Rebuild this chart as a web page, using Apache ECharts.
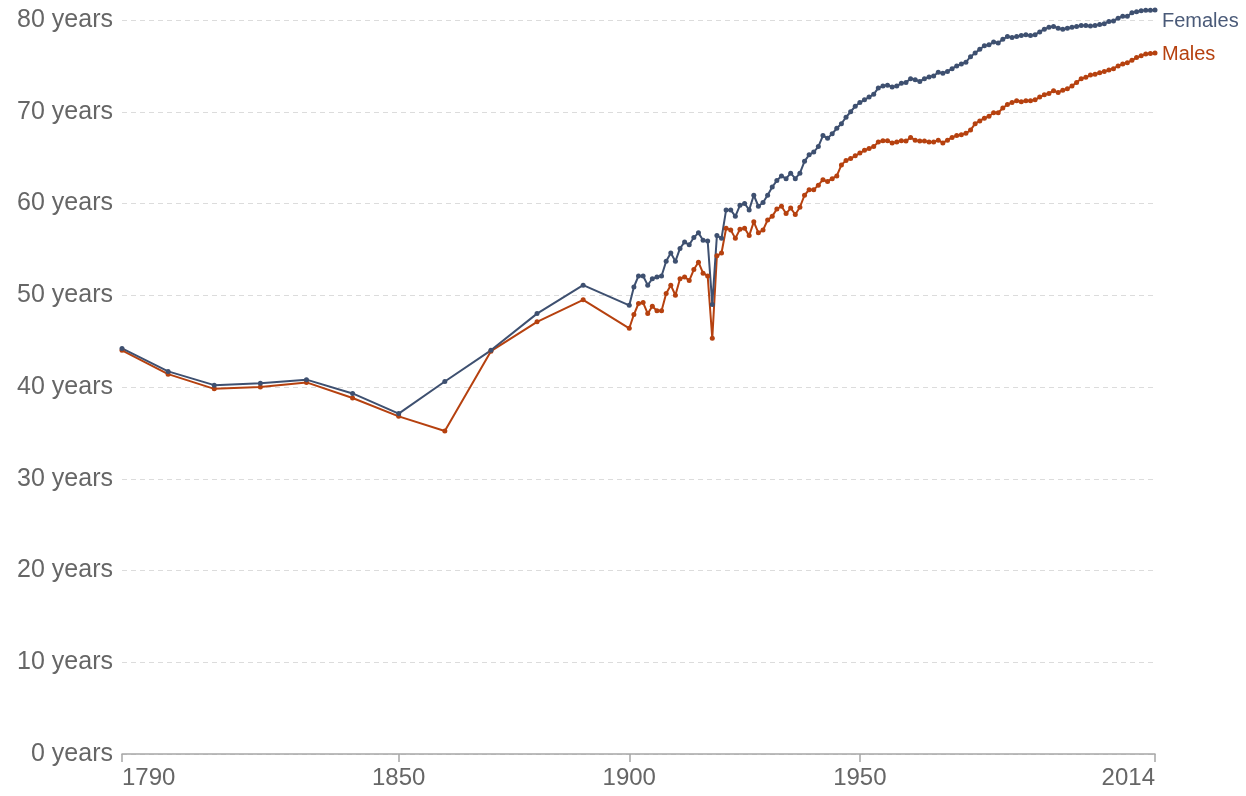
<!DOCTYPE html>
<html>
<head>
<meta charset="utf-8">
<title>Life expectancy, females and males</title>
<script src="https://cdn.jsdelivr.net/npm/echarts@6/dist/echarts.min.js"></script>
<style>
    html, body { margin: 0; padding: 0; background: #fff; }
    #main { width: 1246px; height: 796px; }
</style>
</head>
<body>
<div id="main"></div>
<script>
    // decade values until 1900, yearly afterwards
    var decadeYears = [1790, 1800, 1810, 1820, 1830, 1840, 1850, 1860, 1870, 1880, 1890, 1900];
    var firstYearlyYear = 1901;

    var females = [
        44.2, 41.7, 40.2, 40.4, 40.8, 39.3, 37.1, 40.6, 44.0, 48.0, 51.1, 48.9,
        50.9, 52.1, 52.1, 51.1, 51.8, 52.0, 52.1, 53.7, 54.6, 53.7,
        55.1, 55.8, 55.5, 56.3, 56.8, 56.0, 55.9, 49.0, 56.5, 56.2,
        59.3, 59.3, 58.6, 59.8, 60.0, 59.3, 60.9, 59.7, 60.1, 60.9,
        61.8, 62.5, 63.0, 62.7, 63.3, 62.7, 63.3, 64.6, 65.3, 65.6,
        66.2, 67.4, 67.1, 67.6, 68.2, 68.7, 69.4, 70.0, 70.6, 71.0,
        71.3, 71.6, 71.9, 72.6, 72.8, 72.9, 72.7, 72.8, 73.1, 73.2,
        73.6, 73.5, 73.3, 73.6, 73.8, 73.9, 74.3, 74.2, 74.4, 74.7,
        75.0, 75.2, 75.4, 76.0, 76.4, 76.8, 77.2, 77.3, 77.6, 77.5,
        77.9, 78.2, 78.1, 78.2, 78.3, 78.4, 78.3, 78.4, 78.7, 79.0,
        79.2, 79.3, 79.1, 79.0, 79.1, 79.2, 79.3, 79.4, 79.4, 79.35,
        79.4, 79.5, 79.6, 79.85, 79.9, 80.2, 80.4, 80.4, 80.8, 80.9,
        81.0, 81.05, 81.05, 81.1
    ];

    var males = [
        44.0, 41.4, 39.8, 40.0, 40.5, 38.8, 36.8, 35.2, 43.9, 47.1, 49.5, 46.4,
        47.9, 49.1, 49.2, 48.0, 48.8, 48.3, 48.3, 50.2, 51.1, 50.0,
        51.8, 52.0, 51.6, 52.8, 53.6, 52.4, 52.1, 45.3, 54.3, 54.6,
        57.3, 57.1, 56.2, 57.2, 57.3, 56.5, 58.0, 56.8, 57.1, 58.2,
        58.6, 59.4, 59.7, 58.9, 59.5, 58.8, 59.6, 60.9, 61.5, 61.5,
        62.0, 62.6, 62.4, 62.7, 63.0, 64.2, 64.7, 64.9, 65.2, 65.5,
        65.8, 66.0, 66.2, 66.7, 66.85, 66.85, 66.6, 66.7, 66.85, 66.8,
        67.2, 66.9, 66.8, 66.8, 66.7, 66.7, 66.9, 66.6, 66.9, 67.2,
        67.4, 67.5, 67.65, 68.0, 68.7, 69.0, 69.3, 69.5, 69.9, 69.9,
        70.4, 70.8, 71.0, 71.2, 71.1, 71.2, 71.2, 71.3, 71.6, 71.85,
        72.0, 72.3, 72.1, 72.35, 72.5, 72.8, 73.2, 73.6, 73.75, 74.0,
        74.1, 74.25, 74.4, 74.55, 74.7, 75.0, 75.2, 75.35, 75.6, 75.9,
        76.1, 76.3, 76.35, 76.4
    ];

    var xTicks = [1790, 1850, 1900, 1950, 2014];
    var yTicks = [0, 10, 20, 30, 40, 50, 60, 70, 80];

    var years = decadeYears.slice();
    for (var y = firstYearlyYear; years.length < females.length; y++) {
        years.push(y);
    }

    function pairs(values) {
        var out = [];
        for (var i = 0; i < values.length; i++) {
            out.push([years[i], values[i]]);
        }
        return out;
    }

    var femaleColor = '#3e5070';
    var maleColor = '#b6410f';
    var font = '"Liberation Sans", Arial, Helvetica, sans-serif';

    var myChart = echarts.init(document.getElementById('main'), null, {renderer: 'canvas'});
    var option = {
        animation: false,
        backgroundColor: '#fff',
        textStyle: { fontFamily: font },
        grid: {
            left: 122,
            right: 91,
            top: 20,
            bottom: 42,
            containLabel: false
        },
        xAxis: {
            type: 'value',
            min: xTicks[0],
            max: xTicks[xTicks.length - 1],
            axisLine: { show: true, lineStyle: { color: '#a6a6a6', width: 1.5 } },
            axisTick: {
                show: true,
                customValues: xTicks,
                length: 8,
                lineStyle: { color: '#a6a6a6', width: 1.5 }
            },
            axisLabel: {
                customValues: xTicks,
                formatter: function (v) { return String(v); },
                fontSize: 24,
                color: '#666',
                margin: 12,
                fontFamily: font,
                alignMinLabel: 'left',
                alignMaxLabel: 'right'
            },
            splitLine: { show: false }
        },
        yAxis: {
            type: 'value',
            min: yTicks[0],
            max: yTicks[yTicks.length - 1],
            interval: 10,
            axisLine: { show: false },
            axisTick: { show: false },
            axisLabel: {
                formatter: '{value} years',
                fontSize: 25,
                color: '#666',
                margin: 9,
                fontFamily: font
            },
            splitLine: {
                show: true,
                lineStyle: { color: '#dcdcdc', type: [5, 4], width: 1 }
            }
        },
        series: [
            {
                name: 'Males',
                type: 'line',
                data: pairs(males),
                clip: false,
                showAllSymbol: true,
                symbol: 'circle',
                symbolSize: 5,
                itemStyle: { color: maleColor },
                lineStyle: { color: maleColor, width: 2 },
                endLabel: {
                    show: true,
                    formatter: '{a}',
                    color: maleColor,
                    fontSize: 20,
                    fontFamily: font,
                    offset: [-1, 1]
                }
            },
            {
                name: 'Females',
                type: 'line',
                data: pairs(females),
                clip: false,
                showAllSymbol: true,
                symbol: 'circle',
                symbolSize: 5,
                itemStyle: { color: femaleColor },
                lineStyle: { color: femaleColor, width: 2 },
                endLabel: {
                    show: true,
                    formatter: '{a}',
                    color: '#4a5a78',
                    fontSize: 20,
                    fontFamily: font,
                    offset: [-1, 12]
                }
            }
        ]
    };
    myChart.setOption(option);
</script>
</body>
</html>
